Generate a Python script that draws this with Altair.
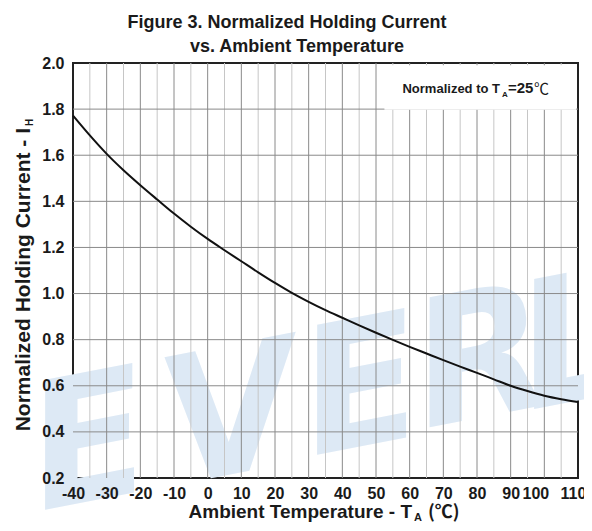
import altair as alt
import pandas as pd

# Curve data
temps = [-40, -35, -30, -25, -20, -15, -10, -5, 0, 5, 10, 15, 20, 25, 30, 35,
         40, 45, 50, 55, 60, 65, 70, 75, 80, 85, 90, 95, 100, 105, 110]
current = [1.772, 1.686, 1.606, 1.535, 1.470, 1.408, 1.347, 1.290, 1.237, 1.188,
           1.140, 1.092, 1.046, 1.003, 0.964, 0.928, 0.895, 0.862, 0.830, 0.799,
           0.769, 0.740, 0.711, 0.683, 0.656, 0.628, 0.600, 0.577, 0.557, 0.542, 0.530]

x_ticks = [-40, -30, -20, -10, 0, 10, 20, 30, 40, 50, 60, 70, 80, 90, 100, 110]
y_ticks = [0.2, 0.4, 0.6, 0.8, 1.0, 1.2, 1.4, 1.6, 1.8, 2.0]
v_grid = list(range(-35, 110, 5))
h_grid = [0.4, 0.6, 0.8, 1.0, 1.2, 1.4, 1.6, 1.8]

title_1 = "Figure 3. Normalized Holding Current"
title_2 = "vs. Ambient Temperature"
y_title = "Normalized Holding Current - I"
x_title = "Ambient Temperature - T"
note = "Normalized to T"

# faint background watermark letters
wm_letters = ["E", "V", "E", "R", "L"]
wm_px = [17, 159, 289, 409, 502]
wm_py = [384, 357, 329, 300, 284]

FONT = "Liberation Sans"
CJK = "Noto Sans CJK SC"
INK = "#1a1a1a"

xs = alt.Scale(domain=[-40, 110], nice=False, zero=False)
ys = alt.Scale(domain=[0.2, 2.0], nice=False, zero=False)

x_axis = alt.Axis(values=x_ticks, labelExpr="'' + datum.value",
                  labelOverlap=False, labelFlush=False, zindex=1,
                  labelOffset={"condition": [
                      {"test": "datum.value == 100", "value": -9},
                      {"test": "datum.value == 110", "value": -5}],
                      "value": 0})
y_axis = alt.Axis(values=y_ticks, format=".1f", labelOverlap=False,
                  labelFlush=False, zindex=1)

curve_df = pd.DataFrame({"T": temps, "v": current})
vg_df = pd.DataFrame({"T": v_grid, "major": [t % 10 == 0 for t in v_grid]})
hg_df = pd.DataFrame({"v": h_grid})
box_df = pd.DataFrame({"T": [52.5], "T2": [109.4], "v": [1.797], "v2": [1.99]})
wm_df = pd.DataFrame({"c": wm_letters, "px": wm_px, "py": wm_py})
one = pd.DataFrame({"k": [0]})

watermark = alt.Chart(wm_df).mark_text(
    font="DejaVu Sans", fontWeight="bold", fontSize=175, fontStyle="italic",
    angle=349, align="center", baseline="middle", color="#dde9f5"
).encode(
    x=alt.X("px:Q", scale=None), y=alt.Y("py:Q", scale=None), text="c:N"
)

vgrid = alt.Chart(vg_df).mark_rule(strokeWidth=1).encode(
    x=alt.X("T:Q", scale=xs, title=None, axis=x_axis),
    color=alt.condition("datum.major", alt.value("#8a8a8a"), alt.value("#c6c6c6")),
)

hgrid = alt.Chart(hg_df).mark_rule(strokeWidth=1, color="#8a8a8a").encode(
    y=alt.Y("v:Q", scale=ys, title=None, axis=y_axis),
)

box = alt.Chart(box_df).mark_rect(color="white").encode(
    x=alt.X("T:Q", scale=xs, title=None, axis=x_axis), x2="T2:Q",
    y=alt.Y("v:Q", scale=ys, title=None, axis=y_axis), y2="v2:Q",
)

line = alt.Chart(curve_df).mark_line(
    color="#111111", strokeWidth=2, interpolate="monotone"
).encode(
    x=alt.X("T:Q", scale=xs, title=None, axis=x_axis),
    y=alt.Y("v:Q", scale=ys, title=None, axis=y_axis),
)


def txt(text, x, y, size, align="center", angle=0, font=FONT, weight="bold"):
    return alt.Chart(one).mark_text(
        text=text, font=font, fontWeight=weight, fontSize=size,
        align=align, baseline="alphabetic", angle=angle, color=INK
    ).encode(x=alt.value(x), y=alt.value(y))


texts = [
    txt(title_1, 214, -35, 18),
    txt(title_2, 224, -11, 18),
    txt(x_title, 339, 455, 19, align="right"),
    txt("A", 341, 458, 11, align="left"),
    txt("(\u2103)", 355, 455, 18, align="left", font=CJK),
    txt(y_title, -43, 65, 21, align="right", angle=270),
    txt("H", -40, 63, 10, align="left", angle=270),
    txt(note, 427, 30, 13, align="right"),
    txt("A", 429, 34, 8, align="left"),
    txt("=25", 435, 30, 15, align="left"),
    txt("\u2103", 461, 31, 15, align="left", font=CJK, weight="normal"),
]

chart = alt.layer(watermark, vgrid, hgrid, box, line, *texts).properties(
    width=505, height=415,
    autosize=alt.AutoSizeParams(type="none"),
    padding={"left": 65, "top": 55, "right": 6, "bottom": 45},
).configure_view(
    stroke="#222222", strokeWidth=2
).configure_axis(
    grid=False, ticks=False, domain=False, zindex=1, labelOverlap=False,
    labelFlush=False,
    labelFont=FONT, labelFontWeight="bold", labelFontSize=16, labelColor=INK,
).configure_axisX(
    labelPadding=7
).configure_axisY(
    labelPadding=9
)

chart.save("out.html", embed_options={"renderer": "svg", "actions": False})
